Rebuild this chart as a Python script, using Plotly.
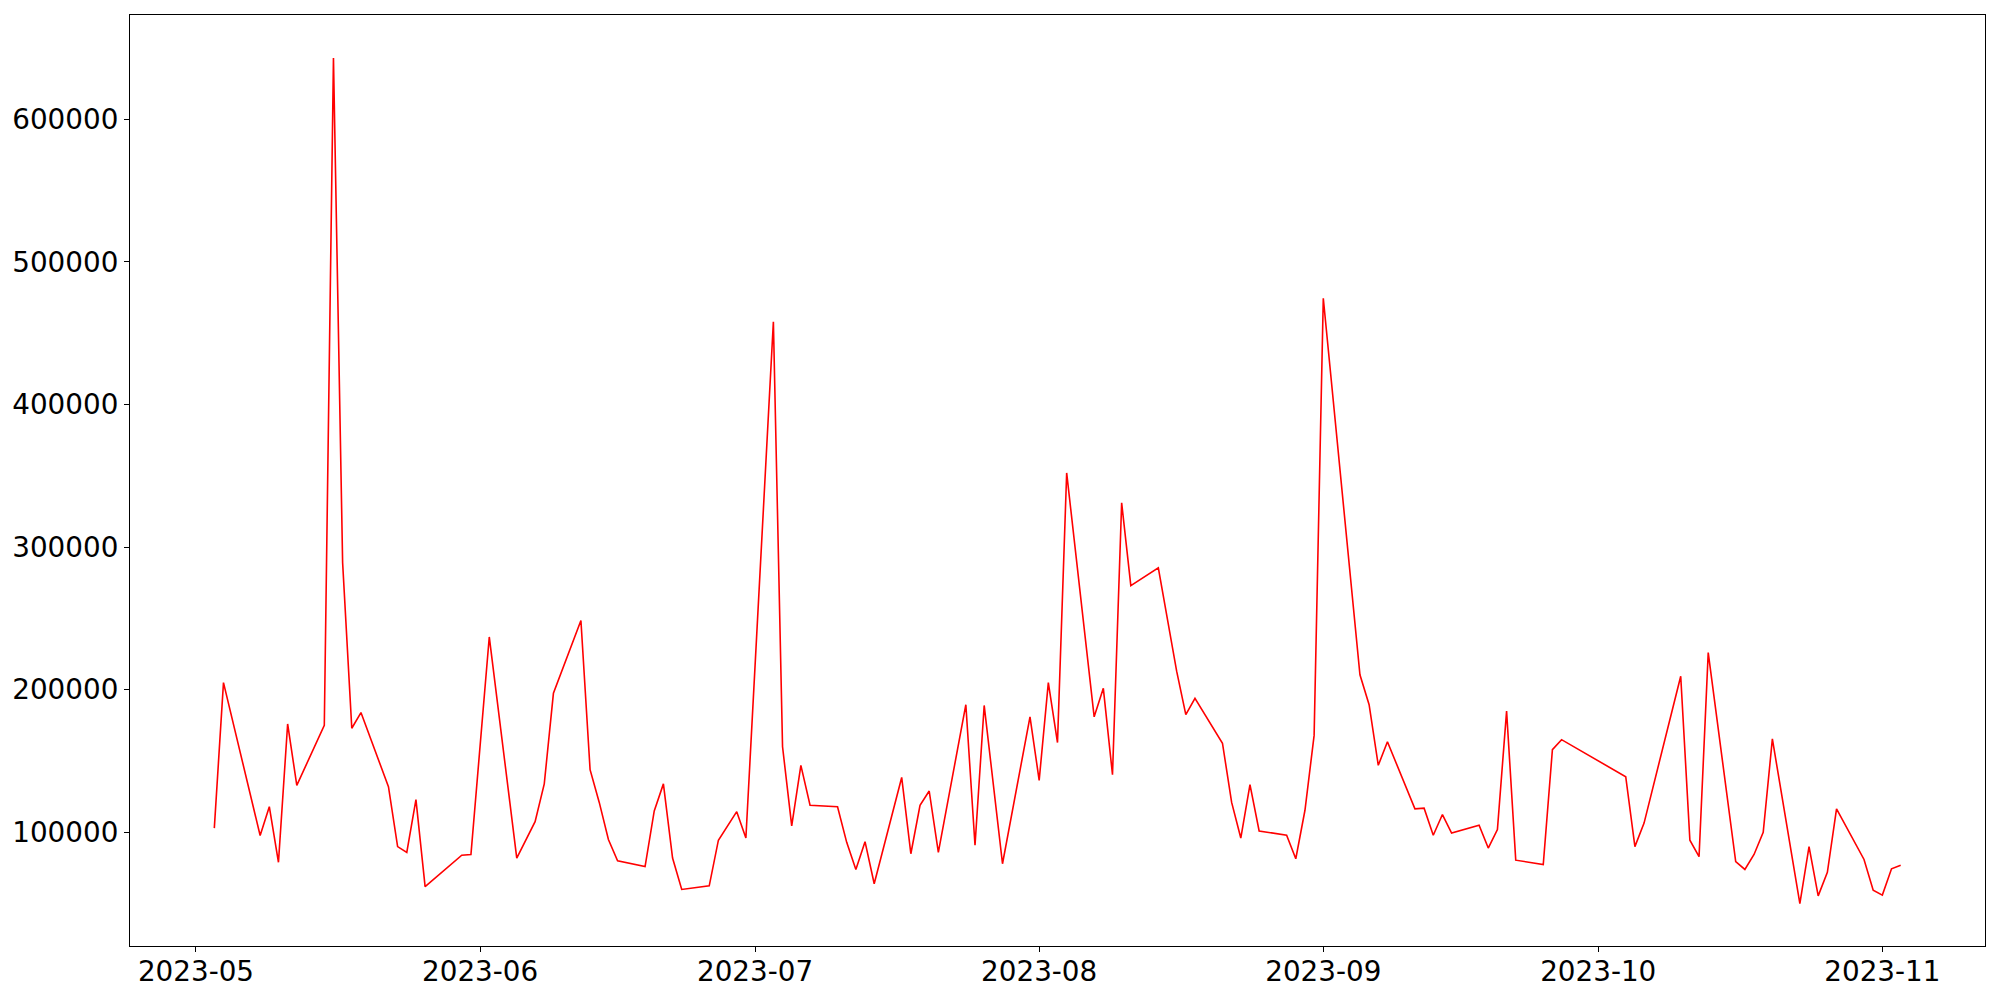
import plotly.graph_objects as go

dates = [
    "2023-05-03", "2023-05-04", "2023-05-08", "2023-05-09", "2023-05-10", "2023-05-11", "2023-05-12",
    "2023-05-15", "2023-05-16", "2023-05-17", "2023-05-18", "2023-05-19", "2023-05-22", "2023-05-23",
    "2023-05-24", "2023-05-25", "2023-05-26", "2023-05-30", "2023-05-31", "2023-06-02", "2023-06-05",
    "2023-06-07", "2023-06-08", "2023-06-09", "2023-06-12", "2023-06-13", "2023-06-14", "2023-06-15",
    "2023-06-16", "2023-06-19", "2023-06-20", "2023-06-21", "2023-06-22", "2023-06-23", "2023-06-26",
    "2023-06-27", "2023-06-29", "2023-06-30", "2023-07-03", "2023-07-04", "2023-07-05", "2023-07-06",
    "2023-07-07", "2023-07-10", "2023-07-11", "2023-07-12", "2023-07-13", "2023-07-14", "2023-07-17",
    "2023-07-18", "2023-07-19", "2023-07-20", "2023-07-21", "2023-07-24", "2023-07-25", "2023-07-26",
    "2023-07-28", "2023-07-31", "2023-08-01", "2023-08-02", "2023-08-03", "2023-08-04", "2023-08-07",
    "2023-08-08", "2023-08-09", "2023-08-10", "2023-08-11", "2023-08-14", "2023-08-16", "2023-08-17",
    "2023-08-18", "2023-08-21", "2023-08-22", "2023-08-23", "2023-08-24", "2023-08-25", "2023-08-28",
    "2023-08-29", "2023-08-30", "2023-08-31", "2023-09-01", "2023-09-05", "2023-09-06", "2023-09-07",
    "2023-09-08", "2023-09-11", "2023-09-12", "2023-09-13", "2023-09-14", "2023-09-15", "2023-09-18",
    "2023-09-19", "2023-09-20", "2023-09-21", "2023-09-22", "2023-09-25", "2023-09-26", "2023-09-27",
    "2023-10-04", "2023-10-05", "2023-10-06", "2023-10-10", "2023-10-11", "2023-10-12", "2023-10-13",
    "2023-10-16", "2023-10-17", "2023-10-18", "2023-10-19", "2023-10-20", "2023-10-23", "2023-10-24",
    "2023-10-25", "2023-10-26", "2023-10-27", "2023-10-30", "2023-10-31", "2023-11-01", "2023-11-02",
    "2023-11-03",
]

values = [
    103000, 205000, 97800, 118000, 79000, 176000, 133000,
    175000, 643000, 289000, 173000, 184000, 132000, 90000,
    86000, 123000, 62000, 84000, 84500, 237000, 82000,
    107500, 134000, 197500, 248500, 144000, 121000, 95000,
    80000, 76000, 115000, 134000, 82000, 60000, 62500,
    94500, 114500, 96000, 458000, 160000, 104500, 147000,
    119000, 118000, 93000, 74000, 93500, 64000, 138500,
    85000, 119000, 129000, 86000, 189500, 91000, 189000,
    78000, 181000, 136500, 205000, 163000, 352000, 181000,
    201000, 140500, 331000, 273000, 285500, 213000, 182500,
    194000, 162500, 121000, 96000, 133500, 101000, 98000,
    81500, 115500, 168000, 474500, 210500, 189500, 147000,
    163500, 116500, 117000, 98000, 112500, 99500, 105000,
    89000, 102000, 185000, 80500, 77500, 158000, 165000,
    139000, 90000, 106500, 209500, 94500, 83000, 226000,
    79500, 74000, 84500, 100000, 165500, 50000, 90000,
    55500, 72000, 116500, 81000, 59500, 56000, 74500,
    77000,
]

y_tick_vals = [100000, 200000, 300000, 400000, 500000, 600000]

fig = go.Figure()
fig.add_trace(go.Scatter(
    x=dates, y=values, mode="lines",
    line=dict(color="#ff0000", width=1.6),
    showlegend=False,
))

axis_common = dict(
    showline=True, linecolor="black", linewidth=1.1, mirror=True,
    showgrid=False, zeroline=False, automargin=False,
    ticks="outside", ticklen=5, tickwidth=1.1, tickcolor="black",
    tickfont=dict(family="DejaVu Sans", size=27.8, color="black"),
)

fig.update_layout(
    width=2000, height=1000,
    margin=dict(l=130, r=15, t=15, b=54),
    paper_bgcolor="white", plot_bgcolor="white",
    xaxis=dict(
        type="date",
        range=["2023-04-23 19:12", "2023-11-12 04:48"],
        tick0="2023-05-01", dtick="M1", tickformat="%Y-%m",
        ticklabelstandoff=-4,
        **axis_common,
    ),
    yaxis=dict(
        range=[20330, 673070],
        tickvals=y_tick_vals, tickformat="d",
        ticklabelstandoff=0,
        **axis_common,
    ),
)

fig.write_html(
    "out.html",
    config={"displayModeBar": False},
    post_script="document.body.style.margin='0';document.body.style.overflow='hidden';",
)
